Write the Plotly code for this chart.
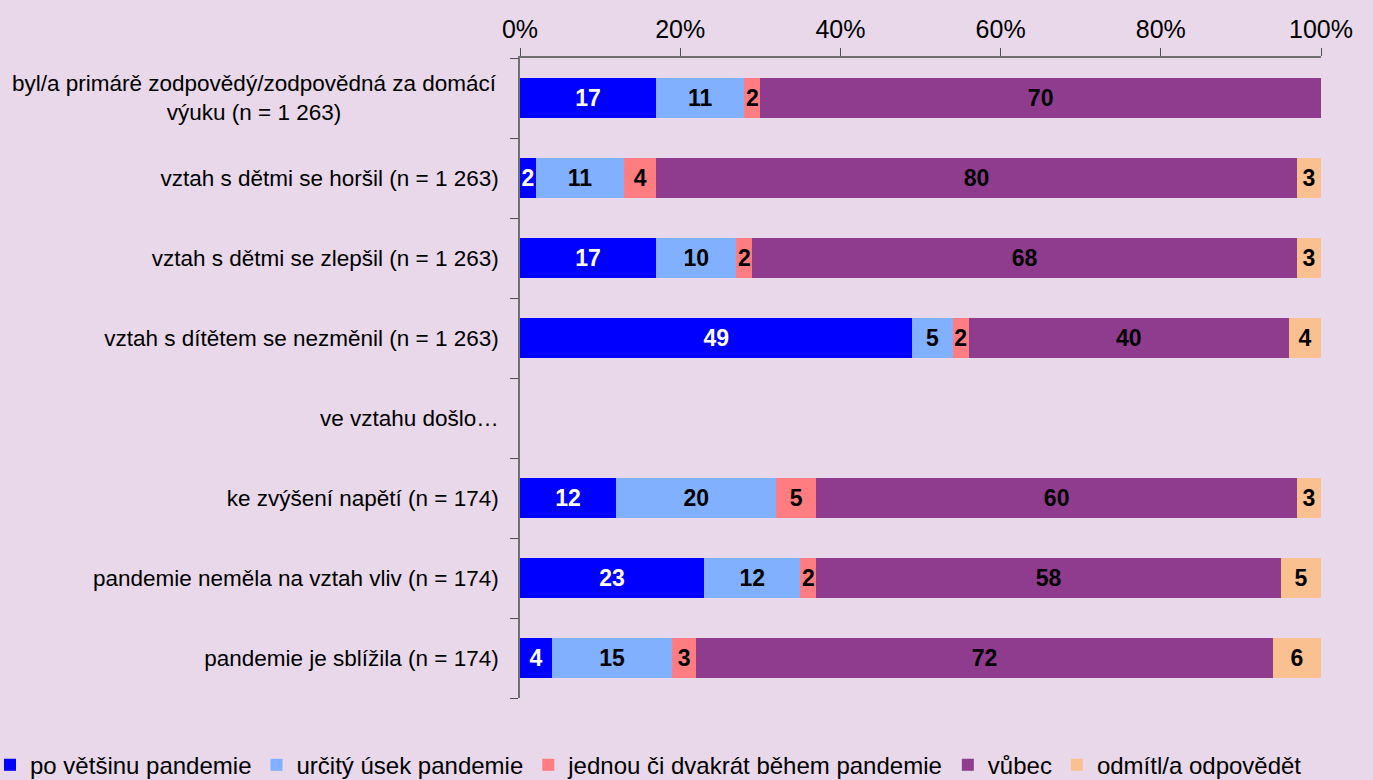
import plotly.graph_objects as go

categories = [
    "byl/a primárě zodpovědý/zodpovědná za domácí<br>výuku (n = 1 263)",
    "vztah s dětmi se horšil (n = 1 263)",
    "vztah s dětmi se zlepšil (n = 1 263)",
    "vztah s dítětem se nezměnil (n = 1 263)",
    "ve vztahu došlo…",
    "ke zvýšení napětí (n = 174)",
    "pandemie neměla na vztah vliv (n = 174)",
    "pandemie je sblížila (n = 174)",
]
series_names = [
    "po většinu pandemie",
    "určitý úsek pandemie",
    "jednou či dvakrát během pandemie",
    "vůbec",
    "odmítl/a odpovědět",
]
po_vetsinu = [17, 2, 17, 49, None, 12, 23, 4]
urcity_usek = [11, 11, 10, 5, None, 20, 12, 15]
jednou_dvakrat = [2, 4, 2, 2, None, 5, 2, 3]
vubec = [70, 80, 68, 40, None, 60, 58, 72]
odmitl = [None, 3, 3, 4, None, 3, 5, 6]
series_values = [po_vetsinu, urcity_usek, jednou_dvakrat, vubec, odmitl]
colors = ["#0000FF", "#80B0FF", "#FF7C80", "#8F3C8F", "#FAC090"]
label_colors = ["white", "black", "black", "black", "black"]
x_ticks = [0, 20, 40, 60, 80, 100]
x_tick_labels = ["0%", "20%", "40%", "60%", "80%", "100%"]

regular = "Liberation Sans, Arial, sans-serif"

fig = go.Figure()
for name, vals, col, lc in zip(series_names, series_values, colors, label_colors):
    fig.add_trace(go.Bar(
        y=categories, x=vals, name=name, orientation="h",
        marker=dict(color=col, line=dict(width=0)),
        text=[("" if v is None else str(v)) for v in vals],
        textposition="inside", insidetextanchor="middle",
        textfont=dict(family=regular, size=23, color=lc, weight="bold"),
        constraintext="none",
        cliponaxis=False,
    ))

fig.update_layout(
    barmode="stack",
    bargap=0.5,
    width=1373, height=780,
    paper_bgcolor="#E8D8EA",
    plot_bgcolor="#E8D8EA",
    margin=dict(l=520, r=52, t=58, b=82, autoexpand=False),
    uniformtext=dict(mode=False),
    font=dict(family=regular, size=22, color="black"),
    legend=dict(
        orientation="h", xref="paper", yref="paper",
        x=-530 / 801, xanchor="left", y=-0.105, yanchor="middle",
        font=dict(family=regular, size=24, color="black"),
        itemwidth=30, tracegroupgap=0, traceorder="normal",
        bgcolor="rgba(0,0,0,0)",
    ),
    showlegend=True,
)
fig.update_xaxes(
    side="top", range=[0, 100], tickvals=x_ticks, ticktext=x_tick_labels,
    showgrid=False, zeroline=False,
    showline=True, linecolor="#707070", linewidth=1.5,
    ticks="outside", ticklen=8, tickcolor="#505050",
    tickfont=dict(family=regular, size=25, color="black"),
)
ticktext = [("" if i == 0 else c) for i, c in enumerate(categories)]
fig.update_yaxes(
    categoryorder="array", categoryarray=categories, autorange="reversed",
    tickvals=categories, ticktext=ticktext,
    showgrid=False, zeroline=False,
    showline=True, linecolor="#707070", linewidth=1.5,
    ticks="outside", ticklen=8, tickcolor="#505050", tickson="boundaries",
    ticklabelstandoff=15,
    tickfont=dict(family=regular, size=22.5, color="black"),
)
fig.add_annotation(
    x=0, xref="paper", xanchor="right", xshift=-21,
    y=categories[0], yref="y", yanchor="middle",
    text="byl/a primárě zodpovědý/zodpovědná za domácí<br>výuku (n = 1 263)",
    align="center", showarrow=False,
    font=dict(family=regular, size=22.5, color="black"),
)

fig.write_html(
    "out.html",
    config={"displayModeBar": False},
    post_script="document.body.style.margin='0';document.body.style.overflow='hidden';",
)
